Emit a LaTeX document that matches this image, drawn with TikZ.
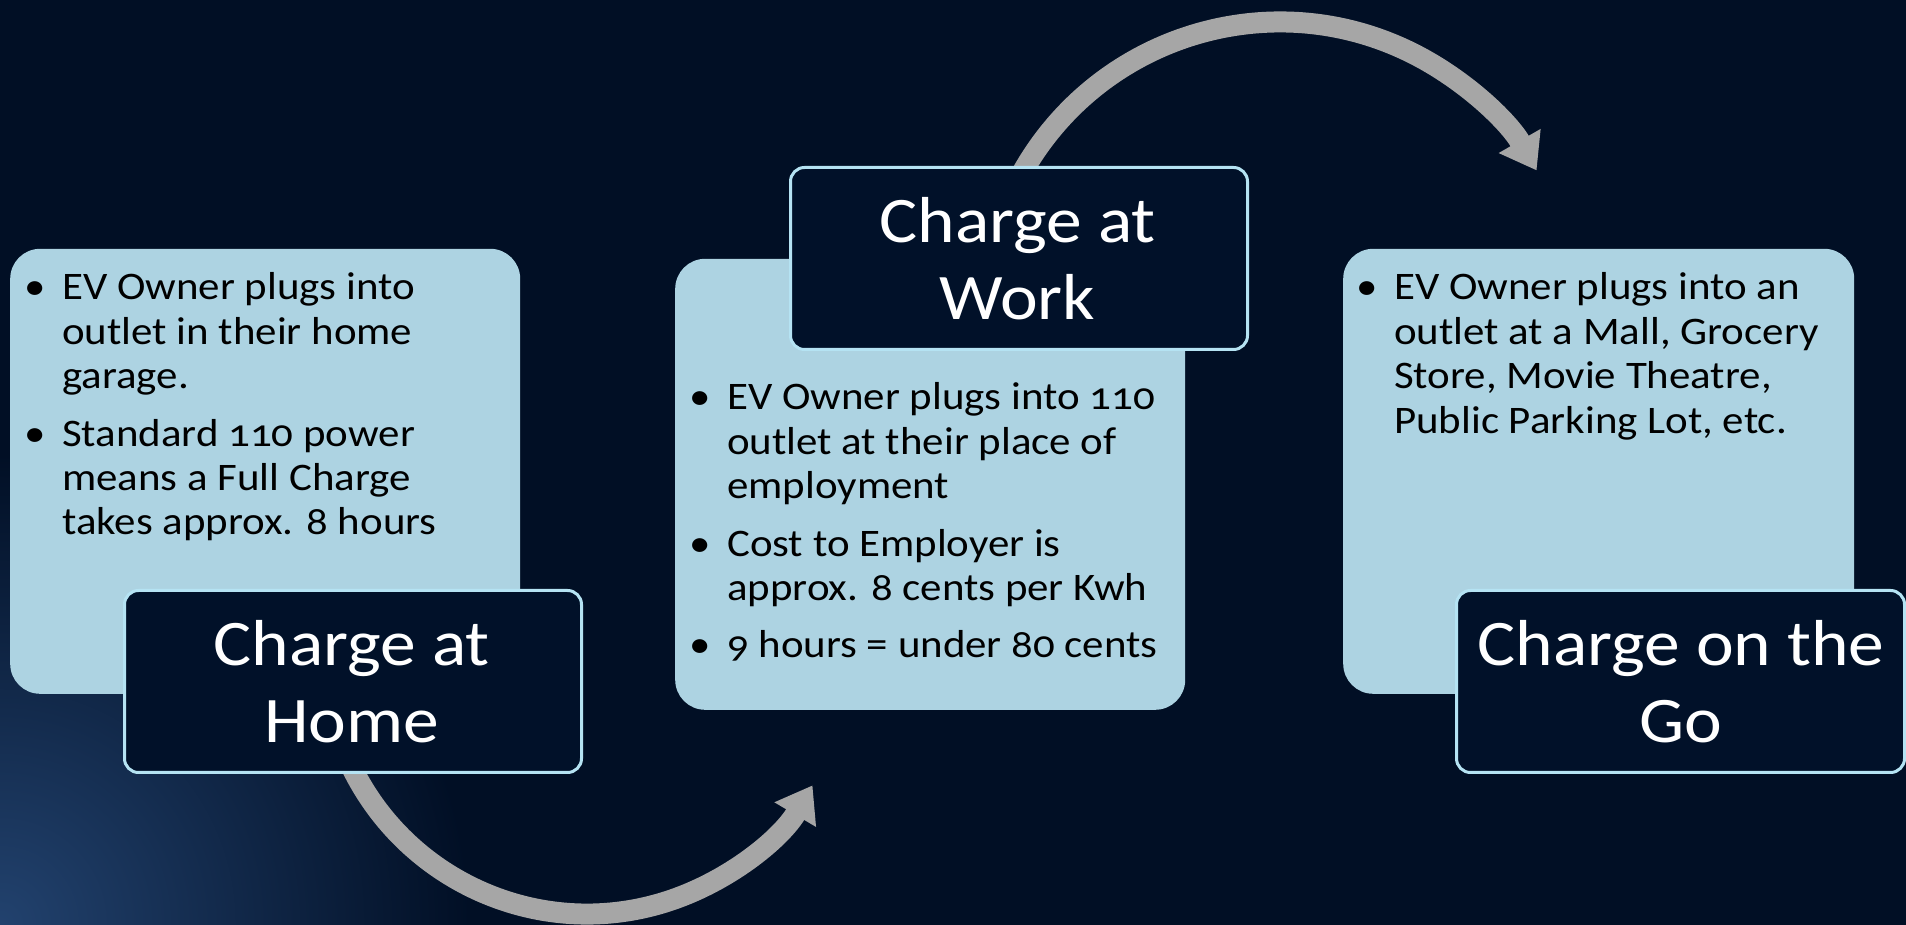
\documentclass[tikz,border=0pt]{standalone}
\usepackage{fontspec}
\setmainfont{Carlito}[Numbers=OldStyle, FakeStretch=1.1]
\usetikzlibrary{arrows.meta}
\definecolor{bg}{HTML}{010F25}
\definecolor{glow}{HTML}{22426E}
\definecolor{lightbx}{HTML}{ADD3E2}
\definecolor{darkbx}{HTML}{011129}
\definecolor{edge}{HTML}{B5E3F3}
\definecolor{arrowc}{HTML}{A6A6A6}
\begin{document}
\begin{tikzpicture}[x=1pt,y=1pt,
  lbox/.style={fill=lightbx, rounded corners=30pt, inner sep=0pt, anchor=south west},
  dbox/.style={fill=darkbx, draw=edge, line width=3pt, rounded corners=14pt, inner sep=0pt, anchor=south west},
  flow/.style={draw=arrowc, line width=21pt, -{Triangle[width=46pt,length=34pt]}},
  body/.style={inner sep=0pt, anchor=base west, text=black, font=\fontsize{39}{44.4}\selectfont},
  ttl/.style={inner sep=0pt, anchor=base, text=white, font=\fontsize{65}{77}\selectfont}]
\useasboundingbox (0,0) rectangle (1906,924);
% background
\fill[bg] (-10,-10) rectangle (1916,934);
\begin{scope}
  \clip (-10,-10) rectangle (1916,934);
  \shade[inner color=glow, outer color=bg] (-470,-470) rectangle (470,470);
\end{scope}
% arcs (behind boxes)
\coordinate (c1) at (587,272);
\coordinate (c2) at (1280,606);
\draw[flow] (c1) ++(200:262) arc[start angle=200, end angle=329.4, radius=262];
\draw[flow] (c2) ++(152:296) arc[start angle=152, end angle=29.9, radius=296];
% light boxes
\node[lbox, minimum width=510pt, minimum height=445pt] (L1) at (10,230) {};
\node[lbox, minimum width=510pt, minimum height=451pt] (L2) at (675,214) {};
\node[lbox, minimum width=511pt, minimum height=445pt] (L3) at (1343,230) {};
% dark boxes
\node[dbox, minimum width=457pt, minimum height=182pt] (D1) at (123,150) {};
\node[dbox, minimum width=457pt, minimum height=182pt] (D2) at (789,573) {};
\node[dbox, minimum width=448pt, minimum height=182pt] (D3) at (1455,150) {};
% body texts
\node[body] (t1) at (24,624) {\begin{tabular}[t]{@{}p{38pt}@{}l@{}}
•&EV Owner plugs into\\
&outlet in their home\\
&garage.\\[13pt]
•&Standard 110 power\\
&means a Full Charge\\
&takes approx. 8 hours
\end{tabular}};
\node[body] (t2) at (689,514) {\begin{tabular}[t]{@{}p{38pt}@{}l@{}}
•&EV Owner plugs into 110\\
&outlet at their place of\\
&employment\\[13pt]
•&Cost to Employer is\\
&approx. 8 cents per Kwh\\[13pt]
•&9 hours = under 80 cents
\end{tabular}};
\node[body] (t3) at (1356,624) {\begin{tabular}[t]{@{}p{38pt}@{}l@{}}
•&EV Owner plugs into an\\
&outlet at a Mall, Grocery\\
&Store, Movie Theatre,\\
&Public Parking Lot, etc.
\end{tabular}};
% titles
\node[ttl] (h1) at (351.5,258) {\begin{tabular}[t]{@{}c@{}}Charge at\\Home\end{tabular}};
\node[ttl] (h2) at (1017.5,681) {\begin{tabular}[t]{@{}c@{}}Charge at\\Work\end{tabular}};
\node[ttl] (h3) at (1681,258) {\begin{tabular}[t]{@{}c@{}}Charge on the\\Go\end{tabular}};
\end{tikzpicture}
\end{document}
